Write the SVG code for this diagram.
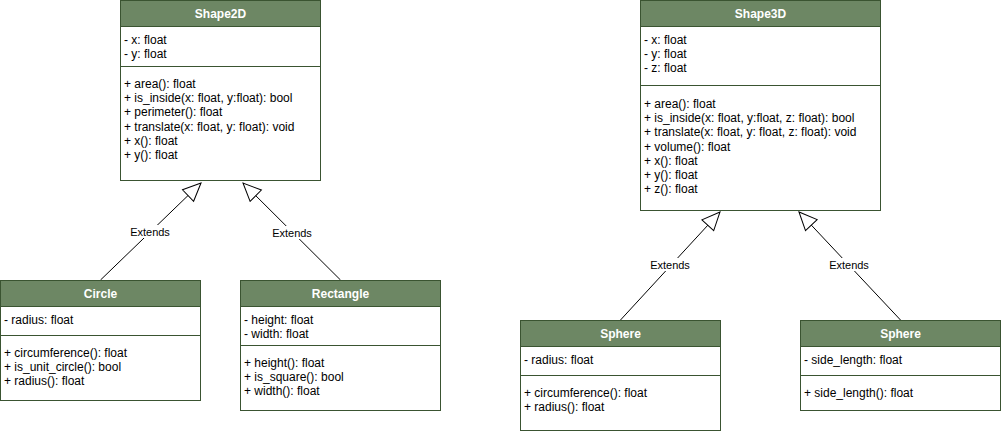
<svg xmlns="http://www.w3.org/2000/svg" width="1001" height="434" viewBox="0 0 1001 434">
<style>
.box{fill:#ffffff;stroke:#3A5431;stroke-width:1}
.hdr{fill:#6d8764;stroke:#3A5431;stroke-width:1}
.sep{stroke:#3A5431;stroke-width:1}
.title{font-family:"Liberation Sans",Arial,sans-serif;font-size:12px;font-weight:bold;fill:#ffffff;text-anchor:middle}
.t{font-family:"Liberation Sans",Arial,sans-serif;font-size:12px;fill:#000000}
.edge{stroke:#000000;stroke-width:1;fill:none}
.lbl{font-family:"Liberation Sans",Arial,sans-serif;font-size:11px;fill:#000000;text-anchor:middle}
.lblbg{fill:#ffffff}
</style>
<defs>
<marker id="inherit" markerUnits="userSpaceOnUse" markerWidth="22" markerHeight="20" refX="19" refY="9" orient="auto" viewBox="0 0 22 20">
<path d="M19,9 L1,1 L1,17 Z" fill="#ffffff" stroke="#000000" stroke-width="1"/>
</marker>
</defs>

<g id="connectors">
<line class="edge" x1="100.5" y1="280" x2="201" y2="183" marker-end="url(#inherit)"/>
<line class="edge" x1="340.5" y1="280" x2="243" y2="183" marker-end="url(#inherit)"/>
<line class="edge" x1="620.5" y1="320" x2="720" y2="212" marker-end="url(#inherit)"/>
<line class="edge" x1="900.5" y1="320" x2="799" y2="212" marker-end="url(#inherit)"/>
<rect class="lblbg" x="130" y="225" width="40" height="13"/>
<text class="lbl" x="150" y="236">Extends</text>
<rect class="lblbg" x="272" y="226" width="40" height="13"/>
<text class="lbl" x="292" y="237">Extends</text>
<rect class="lblbg" x="650" y="258" width="40" height="13"/>
<text class="lbl" x="670" y="269">Extends</text>
<rect class="lblbg" x="829" y="258" width="40" height="13"/>
<text class="lbl" x="849" y="269">Extends</text>
</g>

<g id="shape2d">
<rect class="box" x="120.5" y="0.5" width="200" height="180"/>
<rect class="hdr" x="120.5" y="0.5" width="200" height="26"/>
<text class="title" x="220.5" y="17.5">Shape2D</text>
<text class="t" x="124" y="44">- x: float</text>
<text class="t" x="124" y="58.2">- y: float</text>
<line class="sep" x1="120.5" y1="66.5" x2="320.5" y2="66.5"/>
<text class="t" x="124" y="88">+ area(): float</text>
<text class="t" x="124" y="102.2">+ is_inside(x: float, y:float): bool</text>
<text class="t" x="124" y="116.4">+ perimeter(): float</text>
<text class="t" x="124" y="130.6">+ translate(x: float, y: float): void</text>
<text class="t" x="124" y="144.8">+ x(): float</text>
<text class="t" x="124" y="159">+ y(): float</text>
</g>

<g id="circle">
<rect class="box" x="0.5" y="280.5" width="200" height="120"/>
<rect class="hdr" x="0.5" y="280.5" width="200" height="26"/>
<text class="title" x="100.5" y="297.5">Circle</text>
<text class="t" x="4" y="324">- radius: float</text>
<line class="sep" x1="0.5" y1="335.5" x2="200.5" y2="335.5"/>
<text class="t" x="4" y="357">+ circumference(): float</text>
<text class="t" x="4" y="371.2">+ is_unit_circle(): bool</text>
<text class="t" x="4" y="385.4">+ radius(): float</text>
</g>

<g id="rectangle">
<rect class="box" x="240.5" y="280.5" width="200" height="130"/>
<rect class="hdr" x="240.5" y="280.5" width="200" height="26"/>
<text class="title" x="340.5" y="297.5">Rectangle</text>
<text class="t" x="244" y="324">- height: float</text>
<text class="t" x="244" y="338.2">- width: float</text>
<line class="sep" x1="240.5" y1="345.5" x2="440.5" y2="345.5"/>
<text class="t" x="244" y="367">+ height(): float</text>
<text class="t" x="244" y="381.2">+ is_square(): bool</text>
<text class="t" x="244" y="395.4">+ width(): float</text>
</g>

<g id="shape3d">
<rect class="box" x="640.5" y="0.5" width="240" height="210"/>
<rect class="hdr" x="640.5" y="0.5" width="240" height="26"/>
<text class="title" x="760.5" y="17.5">Shape3D</text>
<text class="t" x="644" y="44">- x: float</text>
<text class="t" x="644" y="58.2">- y: float</text>
<text class="t" x="644" y="72.4">- z: float</text>
<line class="sep" x1="640.5" y1="85.5" x2="880.5" y2="85.5"/>
<text class="t" x="644" y="108">+ area(): float</text>
<text class="t" x="644" y="122.2">+ is_inside(x: float, y:float, z: float): bool</text>
<text class="t" x="644" y="136.4">+ translate(x: float, y: float, z: float): void</text>
<text class="t" x="644" y="150.6">+ volume(): float</text>
<text class="t" x="644" y="164.8">+ x(): float</text>
<text class="t" x="644" y="179">+ y(): float</text>
<text class="t" x="644" y="193.2">+ z(): float</text>
</g>

<g id="sphere1">
<rect class="box" x="520.5" y="320.5" width="200" height="110"/>
<rect class="hdr" x="520.5" y="320.5" width="200" height="26"/>
<text class="title" x="620.5" y="337.5">Sphere</text>
<text class="t" x="524" y="364">- radius: float</text>
<line class="sep" x1="520.5" y1="375.5" x2="720.5" y2="375.5"/>
<text class="t" x="524" y="397">+ circumference(): float</text>
<text class="t" x="524" y="411.2">+ radius(): float</text>
</g>

<g id="sphere2">
<rect class="box" x="800.5" y="320.5" width="200" height="90"/>
<rect class="hdr" x="800.5" y="320.5" width="200" height="26"/>
<text class="title" x="900.5" y="337.5">Sphere</text>
<text class="t" x="804" y="364">- side_length: float</text>
<line class="sep" x1="800.5" y1="375.5" x2="1000.5" y2="375.5"/>
<text class="t" x="804" y="397">+ side_length(): float</text>
</g>
</svg>
